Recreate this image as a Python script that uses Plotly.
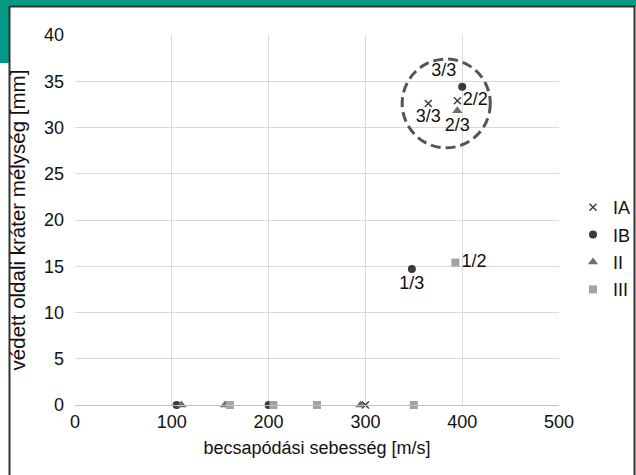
import plotly.graph_objects as go

# ---- data ----
ia_x = [300, 365, 395]
ia_y = [0, 32.6, 32.9]
ia_lbl = ["", "3/3", "2/2"]

ib_x = [105, 200, 348, 400]
ib_y = [0, 0, 14.7, 34.4]
ib_lbl = ["", "", "1/3", "3/3"]

ii_x = [110, 155, 295, 395]
ii_y = [0, 0, 0, 31.8]
ii_lbl = ["", "", "", "2/3"]

iii_x = [160, 205, 250, 350, 393]
iii_y = [0, 0, 0, 0, 15.4]
iii_lbl = ["", "", "", "", "1/2"]

x_ticks = [0, 100, 200, 300, 400, 500]
y_ticks = [0, 5, 10, 15, 20, 25, 30, 35, 40]

FONT = "Liberation Sans, Arial, sans-serif"
fig = go.Figure()

def add(name, xs, ys, lbls, pos, symbol, color, size, grp, lw=0):
    fig.add_trace(go.Scatter(
        x=xs, y=ys, name=name, mode="markers+text", text=lbls,
        textposition=pos, legendgroup=grp,
        textfont=dict(size=18, color="#111", family=FONT),
        marker=dict(symbol=symbol, color=color, size=size,
                    line=dict(width=lw, color=color)),
        cliponaxis=False,
    ))

add("IA", ia_x, ia_y, ia_lbl, ["middle right", "bottom center", "middle right"],
    "x-thin", "#3a3a3a", 7, "a", lw=1.4)
add("IB", ib_x, ib_y, ib_lbl, ["top center", "top center", "bottom center", "top left"],
    "circle", "#3a3a3a", 8, "b")
add("II", ii_x, ii_y, ii_lbl, ["top center"] * 3 + ["bottom center"],
    "triangle-up", "#6e6e6e", 9, "c")
add("III", iii_x, iii_y, iii_lbl, ["top center"] * 4 + ["middle right"],
    "square", "#a3a3a3", 8, "d")

# dashed circle
fig.add_shape(type="circle", xref="x", yref="y", x0=338, x1=429, y0=27.8, y1=37.4,
              line=dict(color="#555", width=3, dash="10px,5px"))

# frame (screenshot crop) decorations in paper coords
L, R, T, B = 75, 559, 35, 405
def px(v):
    return (v - L) / (R - L)
def py(v):
    return (B - v) / (B - T)

fig.add_shape(type="rect", xref="paper", yref="paper", x0=px(0), x1=px(636), y0=py(0), y1=py(6),
              fillcolor="#009a85", line=dict(width=0), layer="above")
fig.add_shape(type="rect", xref="paper", yref="paper", x0=px(0), x1=px(9), y0=py(0), y1=py(63),
              fillcolor="#009a85", line=dict(width=0), layer="above")
fig.add_shape(type="line", xref="paper", yref="paper", x0=px(9), x1=px(635), y0=py(6.5), y1=py(6.5),
              line=dict(color="#333", width=2), layer="above")
fig.add_shape(type="line", xref="paper", yref="paper", x0=px(9.5), x1=px(9.5), y0=py(6), y1=py(475),
              line=dict(color="#333", width=2), layer="above")
fig.add_shape(type="line", xref="paper", yref="paper", x0=px(634.5), x1=px(634.5), y0=py(6), y1=py(475),
              line=dict(color="#333", width=2), layer="above")

fig.update_layout(
    width=636, height=475,
    margin=dict(l=L, r=636 - R, t=T, b=475 - B, autoexpand=False),
    paper_bgcolor="white", plot_bgcolor="white",
    font=dict(family=FONT, size=18, color="#111"),
    showlegend=True,
    legend=dict(x=px(573), y=py(189), xanchor="left", yanchor="top",
                font=dict(size=18, color="#111"), tracegroupgap=1,
                itemwidth=30, bgcolor="rgba(0,0,0,0)"),
    xaxis=dict(range=[0, 500], tickvals=x_ticks, showgrid=True, gridcolor="#d9d9d9",
               gridwidth=1, zeroline=False, showline=True, linecolor="#bfbfbf",
               ticks="", tickfont=dict(size=18), automargin=False,
               title=dict(text="becsapódási sebesség [m/s]", font=dict(size=18), standoff=10)),
    yaxis=dict(range=[0, 40], tickvals=y_ticks, showgrid=True, gridcolor="#d9d9d9",
               gridwidth=1, zeroline=False, showline=False, automargin=False,
               ticks="", tickfont=dict(size=18), ticklabelstandoff=10,
               title=dict(text="védett oldali kráter mélység [mm]", font=dict(size=20.5), standoff=12)),
)
fig.write_html("out.html")
